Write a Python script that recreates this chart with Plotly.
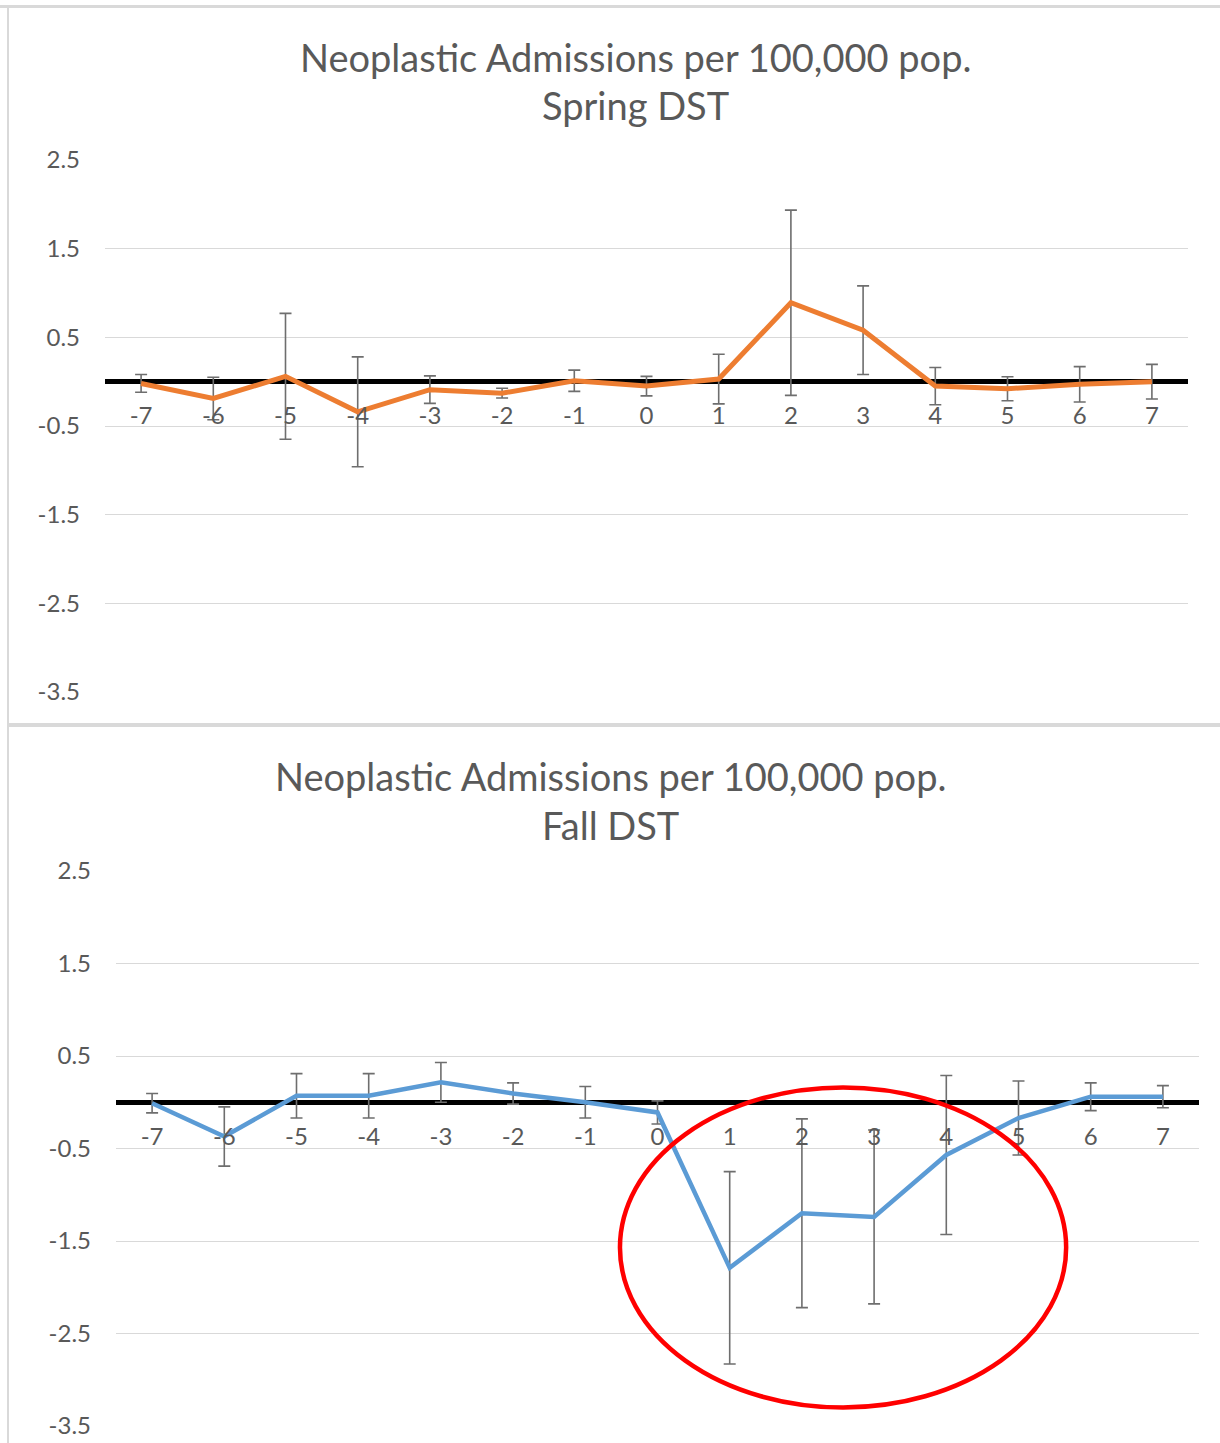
import plotly.graph_objects as go

# ---- data ----
days = [-7, -6, -5, -4, -3, -2, -1, 0, 1, 2, 3, 4, 5, 6, 7]
day_labels = ["-7", "-6", "-5", "-4", "-3", "-2", "-1", "0", "1", "2", "3", "4", "5", "6", "7"]

spring_mean = [-0.02, -0.19, 0.06, -0.34, -0.09, -0.13, 0.01, -0.05, 0.03, 0.89, 0.58, -0.05, -0.08, -0.03, 0.00]
spring_err = [0.10, 0.24, 0.71, 0.62, 0.155, 0.055, 0.12, 0.11, 0.28, 1.045, 0.50, 0.21, 0.135, 0.20, 0.195]

fall_mean = [-0.01, -0.37, 0.07, 0.07, 0.215, 0.095, 0.0, -0.11, -1.79, -1.20, -1.24, -0.57, -0.17, 0.06, 0.06]
fall_err = [0.105, 0.32, 0.24, 0.24, 0.215, 0.115, 0.17, 0.125, 1.04, 1.02, 0.94, 0.86, 0.40, 0.15, 0.12]

y_ticks = [-3.5, -2.5, -1.5, -0.5, 0.5, 1.5, 2.5]
y_tick_labels = ["-3.5", "-2.5", "-1.5", "-0.5", "0.5", "1.5", "2.5"]

title_main = "Neoplastic Admissions per 100,000 pop."
title_spring = "Spring DST"
title_fall = "Fall DST"

# ---- figure ----
W, H = 1220, 1443
FONT = "Lato"
GRAY = "#595959"
ERR = "#6e6e6e"

def px_x(p):
    return p / W

def px_y(p):
    return 1 - p / H

fig = go.Figure()

fig.add_trace(go.Scatter(
    x=days, y=spring_mean, mode="lines",
    line=dict(color="#ED7D31", width=5),
    error_y=dict(type="data", array=spring_err, color=ERR, thickness=1.6, width=6),
    xaxis="x", yaxis="y", showlegend=False,
))
fig.add_trace(go.Scatter(
    x=days, y=fall_mean, mode="lines",
    line=dict(color="#5B9BD5", width=4.5),
    error_y=dict(type="data", array=fall_err, color=ERR, thickness=1.6, width=6),
    xaxis="x2", yaxis="y2", showlegend=False,
))

yax_common = dict(
    range=[-3.5, 2.5], tickvals=y_ticks, ticktext=y_tick_labels,
    showgrid=True, gridcolor="#D9D9D9", gridwidth=1,
    zeroline=True, zerolinecolor="black", zerolinewidth=4.5,
    showline=False, ticks="", ticklabelstandoff=24,
    tickfont=dict(family=FONT, size=24, color=GRAY),
    fixedrange=True, automargin=False,
)
xax_common = dict(
    range=[-7.5, 7.5], tickvals=days, ticktext=day_labels,
    showgrid=False, zeroline=False, showline=False, ticks="",
    tickfont=dict(family=FONT, size=24, color=GRAY),
    anchor="free", ticklabelstandoff=17,
    fixedrange=True, automargin=False,
)

fig.update_layout(
    width=W, height=H,
    margin=dict(l=0, r=0, t=0, b=0, pad=0),
    paper_bgcolor="white", plot_bgcolor="white",
    xaxis=dict(domain=[px_x(105), px_x(1188)], position=px_y(381.5), **xax_common),
    yaxis=dict(domain=[px_y(692), px_y(160)], anchor="x", **yax_common),
    xaxis2=dict(domain=[px_x(116), px_x(1199)], position=px_y(1103), **xax_common),
    yaxis2=dict(domain=[px_y(1426), px_y(871)], anchor="x2", **yax_common),
)

tfont = dict(family=FONT, size=38, color=GRAY)
anns = [
    dict(text=title_main, x=px_x(635), y=px_y(57)),
    dict(text=title_spring, x=px_x(635), y=px_y(105)),
    dict(text=title_main, x=px_x(610), y=px_y(776)),
    dict(text=title_fall, x=px_x(610), y=px_y(825)),
]
for a in anns:
    fig.add_annotation(xref="paper", yref="paper", xanchor="center", yanchor="middle",
                       showarrow=False, font=tfont, **a)

border = "#D9D9D9"
fig.add_shape(type="line", xref="paper", yref="paper", x0=0, x1=1,
              y0=px_y(6.5), y1=px_y(6.5), line=dict(color=border, width=3))
fig.add_shape(type="line", xref="paper", yref="paper", x0=px_x(8), x1=px_x(8),
              y0=0, y1=px_y(6.5), line=dict(color=border, width=2))
fig.add_shape(type="line", xref="paper", yref="paper", x0=px_x(8), x1=1,
              y0=px_y(725), y1=px_y(725), line=dict(color=border, width=4))

# red highlight ellipse around the post-transition dip
fig.add_shape(type="circle", xref="x2", yref="y2", x0=-0.52, x1=5.66, y0=-3.30, y1=0.16,
              line=dict(color="#FF0000", width=4.5), layer="above")

fig.write_html("out.html", config={"displayModeBar": False},
               post_script="document.body.style.margin='0';")
